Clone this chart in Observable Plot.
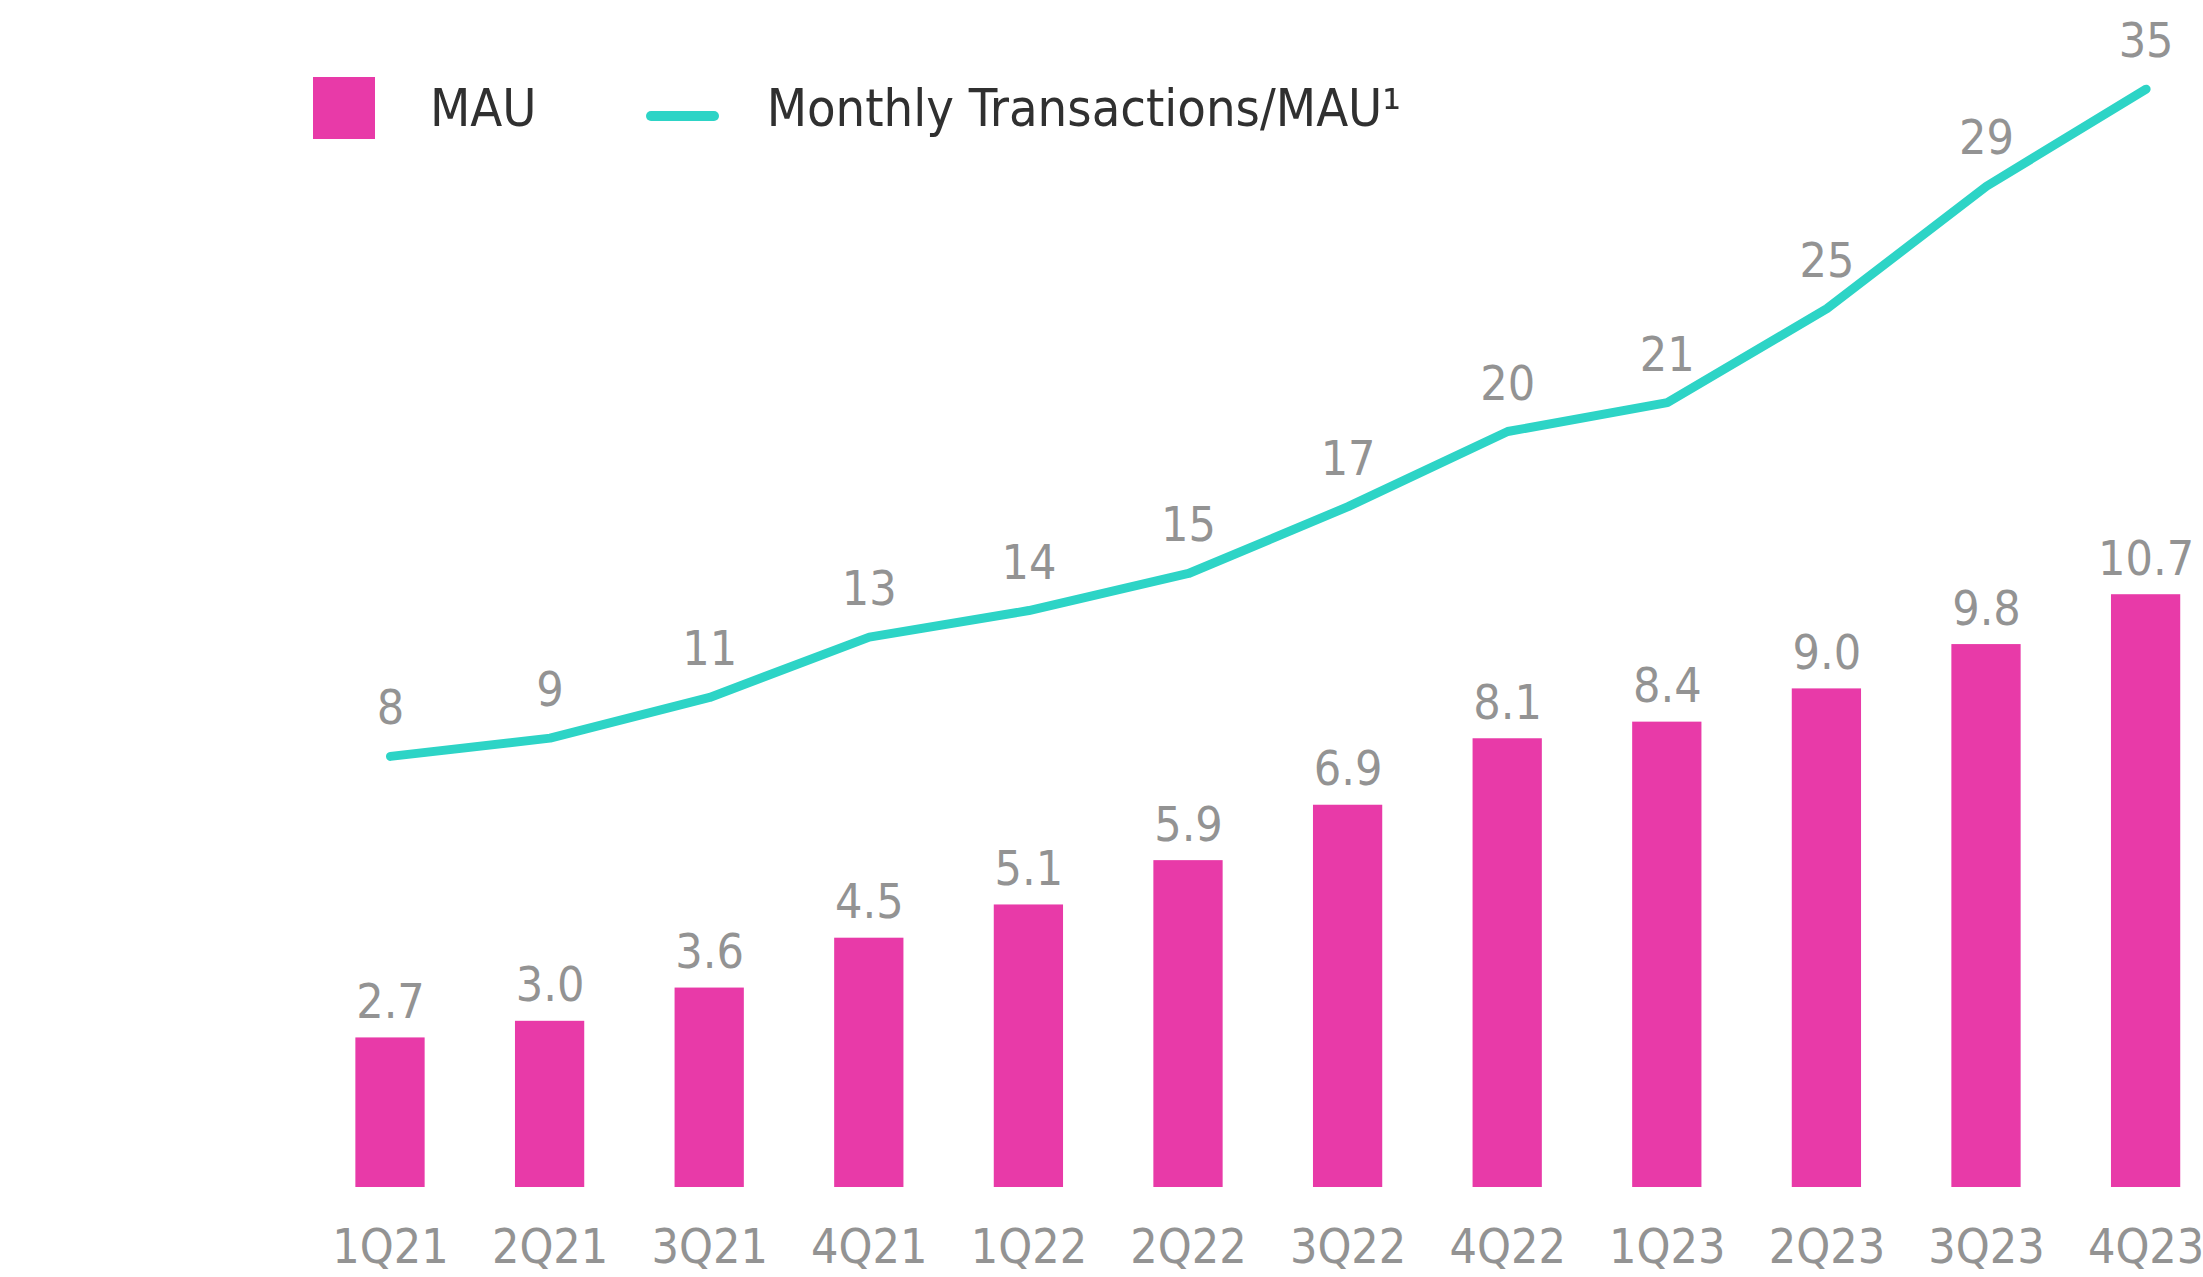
<!DOCTYPE html>
<html>
<head>
<meta charset="utf-8">
<script src="https://cdn.jsdelivr.net/npm/d3@7"></script>
<script src="https://cdn.jsdelivr.net/npm/@observablehq/plot@0.6"></script>
<style>
  html, body { margin: 0; padding: 0; background: #ffffff; }
  #wrap { position: relative; width: 2203px; height: 1277px; overflow: hidden;
          font-family: "DejaVu Sans Condensed", "DejaVu Sans", sans-serif; font-stretch: condensed; }
  #chart { position: absolute; left: 0; top: 0; }
  #chart svg text { font-stretch: condensed; }
  #legend { position: absolute; left: 313px; top: 77px; height: 62px; display: flex; align-items: center;
            color: #303030; font-size: 52px; line-height: 1; white-space: nowrap; }
  .sq { width: 62px; height: 62px; background: #E83AA8; flex: none; }
  .ln { width: 73px; height: 10px; border-radius: 5px; background: #2DD4C6; margin-top: 16px; flex: none; }
</style>
</head>
<body>
<div id="wrap">
  <div id="chart"></div>
  <div id="legend">
    <div class="sq"></div>
    <span style="margin-left:55px">MAU</span>
    <div class="ln" style="margin-left:109px"></div>
    <span style="margin-left:48px">Monthly Transactions/MAU¹</span>
  </div>
</div>
<script>
// ---- data ----
const quarters = ["1Q21","2Q21","3Q21","4Q21","1Q22","2Q22","3Q22","4Q22","1Q23","2Q23","3Q23","4Q23"];
const mau = [2.7, 3.0, 3.6, 4.5, 5.1, 5.9, 6.9, 8.1, 8.4, 9.0, 9.8, 10.7];
const mauLabels = ["2.7","3.0","3.6","4.5","5.1","5.9","6.9","8.1","8.4","9.0","9.8","10.7"];
// line positions (secondary axis units)
const txnPerMau = [8.05, 8.75, 10.31, 12.62, 13.64, 15.06, 17.62, 20.50, 21.61, 25.21, 29.90, 33.62];
const txnLabels = ["8","9","11","13","14","15","17","20","21","25","29","35"];

// secondary (line) axis expressed in the primary (bar) axis units
const lineToBar = d3.scaleLinear().domain([0, 10]).range([3.99, 8.70]);

const data = quarters.map((q, i) => ({
  q,
  mau: mau[i],
  mauLabel: mauLabels[i],
  txn: lineToBar(txnPerMau[i]),
  txnLabel: txnLabels[i]
}));

const grey = "#939393";
const chart = Plot.plot({
  width: 2203,
  height: 1277,
  marginTop: 0,
  marginBottom: 90,
  marginLeft: 0,
  marginRight: 0,
  style: {
    fontFamily: '"DejaVu Sans Condensed", "DejaVu Sans", sans-serif',
    background: "transparent",
    overflow: "visible"
  },
  x: { domain: quarters, range: [310.2, 2225.4], paddingInner: 0.566, paddingOuter: 0.283, round: false, label: null },
  y: { domain: [0, 10], range: [1187, 633], axis: null },
  marks: [
    Plot.barY(data, { x: "q", y: "mau", fill: "#E83AA8" }),
    Plot.text(data, { x: "q", y: "mau", text: "mauLabel", lineAnchor: "bottom", dy: -20, fontSize: 48, fill: grey }),
    Plot.line(data, { x: "q", y: "txn", stroke: "#2DD4C6", strokeWidth: 9, strokeLinecap: "round", strokeLinejoin: "round" }),
    Plot.text(data, { x: "q", y: "txn", text: "txnLabel", lineAnchor: "bottom", dy: -32, fontSize: 48, fill: grey }),
    Plot.axisX({ tickSize: 0, tickPadding: 41, fontSize: 48, color: grey, label: null })
  ]
});
document.getElementById("chart").appendChild(chart);
</script>
</body>
</html>
